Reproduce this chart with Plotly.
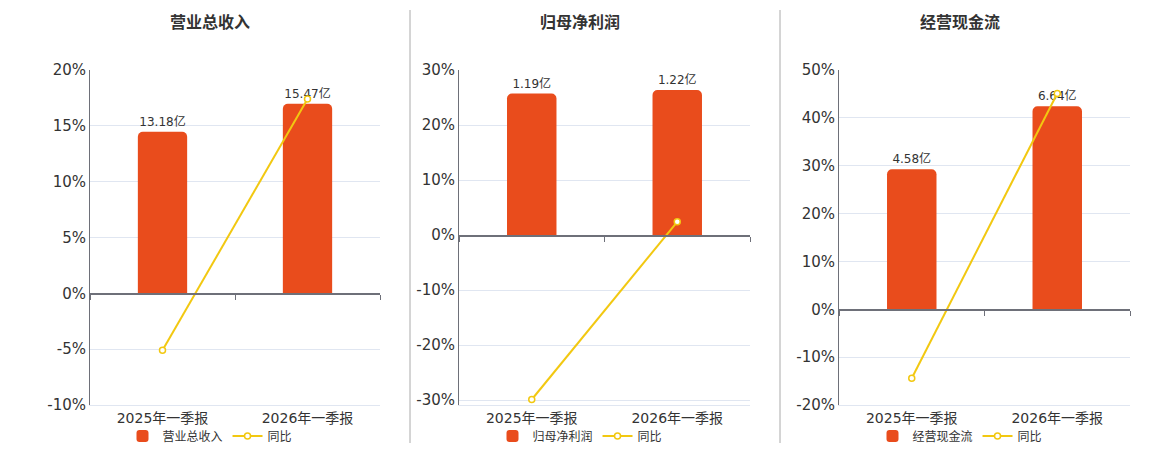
import plotly.graph_objects as go

quarters = ['2025年一季报', '2026年一季报']

titles = ['营业总收入', '归母净利润', '经营现金流']
bar_values = [[13.18, 15.47], [1.19, 1.22], [4.58, 6.64]]   # 亿
yoy_values = [[-5.1, 17.4], [-29.9, 2.4], [-14.4, 45.1]]   # %

pct_ticks = [
    [-10, -5, 0, 5, 10, 15, 20],
    [-30, -20, -10, 0, 10, 20, 30],
    [-20, -10, 0, 10, 20, 30, 40, 50],
]

# 坐标轴范围 (百分比轴, 柱子轴), 让两条轴的 0 对齐
pct_ranges = [[-10, 20], [-30.9, 30], [-20, 50]]
bar_tops = [18.22, 1.388, 7.83]

# 页面 body 有 8px 的默认边距, 图按屏幕坐标换算
OFF = 8
W, H = 1160 - OFF, 450 - OFF


def px(xs):
    return (xs - OFF) / W


def py(ys):
    return (H - (ys - OFF)) / H


x_doms = [(90, 380), (459, 750), (839, 1130)]
title_x = [210, 580, 960]
y_dom = [py(405), py(70)]

BAR_C = '#E94C1C'
LINE_C = '#F2C811'
FONT = 'DejaVu Sans, Noto Sans CJK SC, sans-serif'

fig = go.Figure()
layout = dict(
    width=W, height=H, margin=dict(l=0, r=0, t=0, b=0, autoexpand=False),
    paper_bgcolor='white', plot_bgcolor='rgba(0,0,0,0)',
    font=dict(family=FONT, color='#333333'),
    barcornerradius=5, bargap=0.66,
    annotations=[], shapes=[],
)

for i in range(3):
    n = i + 1
    xa, ya = f'x{n}', f'y{n}'
    yo = f'y{n + 3}'
    lg = 'legend' if n == 1 else f'legend{n}'
    lo, hi = pct_ranges[i]
    bar_rng = [bar_tops[i] * lo / hi, bar_tops[i]]
    zero_pos = y_dom[0] + (y_dom[1] - y_dom[0]) * (-lo) / (hi - lo)
    dom = [px(x_doms[i][0]), px(x_doms[i][1])]

    fig.add_trace(go.Bar(
        x=quarters, y=bar_values[i], name=titles[i], xaxis=xa, yaxis=ya,
        marker=dict(color=BAR_C, line=dict(width=0)),
        text=[f'{v:.2f}亿' for v in bar_values[i]], textposition='outside',
        textfont=dict(size=12, color='#333333'), cliponaxis=False,
        legend=lg,
    ))
    fig.add_trace(go.Scatter(
        x=quarters, y=yoy_values[i], name='同比', mode='lines+markers',
        xaxis=xa, yaxis=yo,
        line=dict(color=LINE_C, width=2),
        marker=dict(size=6, color='white', line=dict(color=LINE_C, width=1.5)),
        cliponaxis=False, legend=lg,
    ))
    # 空 trace, 只为让 0 位置的横轴子图被画出来
    fig.add_trace(go.Scatter(
        x=[], y=[], xaxis=f'x{n + 6}', yaxis=f'y{n + 6}',
        showlegend=False, hoverinfo='skip',
    ))

    layout[f'xaxis{n}'] = dict(
        domain=dom, anchor=ya, type='category',
        showline=True, linecolor='#E0E6F1', linewidth=1,
        showgrid=False, ticks='', tickfont=dict(size=14, color='#333333'),
    )
    layout[f'yaxis{n}'] = dict(
        domain=y_dom, anchor=xa, range=bar_rng, visible=False,
        showgrid=False, zeroline=False,
    )
    layout[f'yaxis{n + 3}'] = dict(
        overlaying=ya, anchor=xa, side='left', range=[lo, hi],
        tickvals=pct_ticks[i], ticktext=[f'{v}%' for v in pct_ticks[i]],
        showgrid=True, gridcolor='#E0E6F1', zeroline=False,
        showline=True, linecolor='#6E7079', linewidth=1,
        tickfont=dict(size=15, color='#333333'),
    )
    # 0 位置的横轴线及分类间刻度
    layout[f'xaxis{n + 6}'] = dict(
        domain=dom, anchor=f'y{n + 6}', range=[-0.5, 1.5],
        tickvals=[-0.5, 0.5, 1.5], showticklabels=False,
        showline=True, linecolor='#6E7079', linewidth=2,
        ticks='outside', ticklen=5, tickcolor='#6E7079', tickwidth=1,
        showgrid=False, zeroline=False, fixedrange=True,
    )
    layout[f'yaxis{n + 6}'] = dict(
        domain=[zero_pos, zero_pos + 0.02], anchor=f'x{n + 6}', range=[0, 1],
        visible=False, showgrid=False, zeroline=False, fixedrange=True,
    )
    layout[lg] = dict(
        orientation='h', x=px(title_x[i]), xanchor='center',
        y=py(436), yanchor='middle', bgcolor='rgba(0,0,0,0)',
        font=dict(size=12, color='#333333'), itemwidth=30,
    )
    layout['annotations'].append(dict(
        text=f'<b>{titles[i]}</b>', x=px(title_x[i]), y=py(22),
        xref='paper', yref='paper', showarrow=False,
        font=dict(size=16, color='#333333'), xanchor='center', yanchor='middle',
    ))

# 面板之间的分隔线
for xp in (410, 780):
    layout['shapes'].append(dict(
        type='line', xref='paper', yref='paper',
        x0=px(xp), x1=px(xp), y0=py(443), y1=py(10),
        line=dict(color='#AAAAAA', width=1),
    ))

fig.update_layout(**layout)
fig.write_html('out.html')
